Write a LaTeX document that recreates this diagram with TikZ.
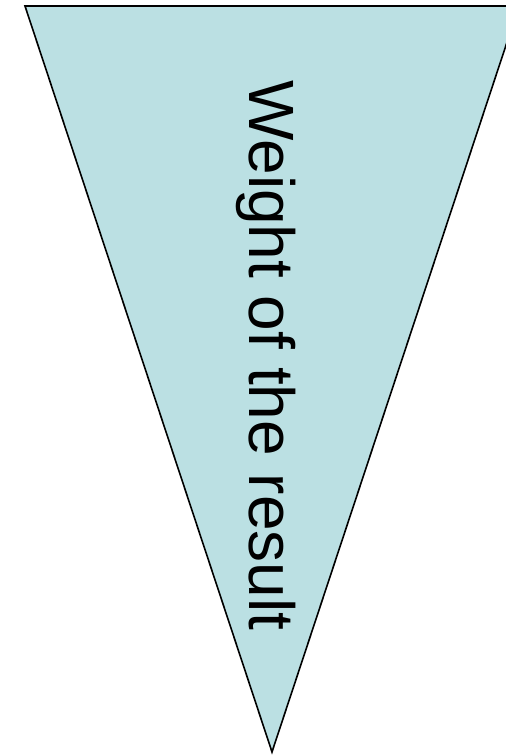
\documentclass[tikz,border=0pt]{standalone}
\usepackage{fontspec}
\setmainfont{Liberation Sans}
\usepackage{tikz}
\usetikzlibrary{positioning}
\definecolor{wedgefill}{HTML}{BBE0E3}
\tikzset{
  wedge/.style ={draw=black, fill=wedgefill, line width=1.6pt, line join=miter},
  vlbl/.style  ={rotate=-90, anchor=base west, inner sep=0pt, font=\fontsize{64}{70}\selectfont},
}

\begin{document}
\begin{tikzpicture}[x=1pt, y=1pt]
  % frame of the page
  \useasboundingbox (0,0) rectangle (506,756);
  \clip (0,0) rectangle (506,756);
  % downward wedge
  \draw[wedge] (25,750) -- (519,750) -- (272,4) -- cycle;
  % label running down the wedge
  \node[vlbl] (wlabel) at (249,676) {Weight of the result};
\end{tikzpicture}
\end{document}
